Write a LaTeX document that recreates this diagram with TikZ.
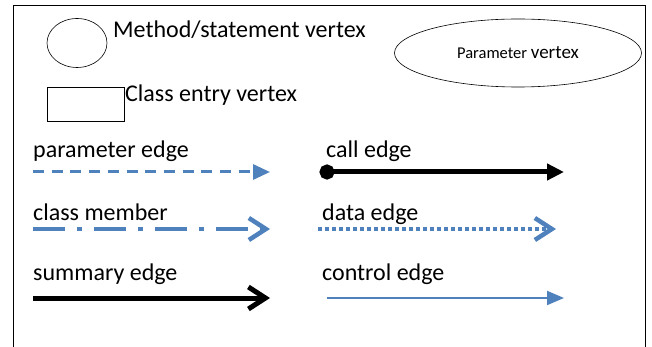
\documentclass[tikz,border=0pt]{standalone}
\usepackage{fontspec}
\setmainfont{Carlito}
\usetikzlibrary{arrows.meta,shapes.geometric}
\definecolor{kek}{RGB}{79,129,189}
\tikzset{
  csucs/.style={draw,ellipse,inner sep=0pt,line width=0.6pt},
  doboz/.style={draw,rectangle,inner sep=0pt,line width=0.6pt},
  felirat/.style={anchor=base west,inner sep=0pt,font=\fontsize{24}{28}\selectfont},
  pel/.style={kek,line width=3pt,dash pattern=on 11pt off 7.7pt,-{Triangle[length=17pt,width=15pt]}},
  tag/.style={kek,line width=4.5pt,dash pattern=on 32pt off 12pt on 5pt off 12pt,
              -{Straight Barb[length=17pt,width=22pt,line width=4.5pt]}},
  osszeg/.style={black,line width=5pt,-{Straight Barb[length=17pt,width=22pt,line width=5pt]}},
  hivas/.style={black,line width=5pt,{Circle[length=15pt]}-{Triangle[length=17pt,width=16pt]}},
  adat/.style={kek,line width=4pt,dash pattern=on 4pt off 3pt,
               -{Straight Barb[length=17pt,width=22pt,line width=4.5pt]}},
  vezerl/.style={kek,line width=2pt,-{Triangle[length=17pt,width=14pt]}},
}
\begin{document}
\begin{tikzpicture}[x=1pt,y=-1pt]
  \useasboundingbox (0,0) rectangle (652,347);
  \draw[line width=0.7pt] (13,360) -- (13,5) -- (645,5) -- (645,360);
  % csucsok
  \node[csucs,minimum width=60pt,minimum height=49pt] (mv) at (77,43) {};
  \node[felirat] (mvt) at (113,38) {Method/statement vertex};
  \node[doboz,minimum width=77pt,minimum height=34pt] (ce) at (85.5,104) {};
  \node[felirat] (cet) at (125,102) {Class entry vertex};
  \node[csucs,minimum width=247pt,minimum height=68pt] (pv) at (518,53)
    {\fontsize{16.5}{18}\selectfont Parameter \fontsize{19}{20}\selectfont vertex};
  % elek
  \node[felirat] (pe) at (33,158) {parameter edge};
  \coordinate (pe1) at (33,172); \coordinate (pe2) at (270,172);
  \draw[pel] (pe1) -- (pe2);
  \node[felirat] (cm) at (33,220) {class member};
  \coordinate (cm1) at (33,229); \coordinate (cm2) at (270,229);
  \draw[tag] (cm1) -- (cm2);
  \node[felirat] (se) at (33,280) {summary edge};
  \coordinate (se1) at (33,298); \coordinate (se2) at (270,298);
  \draw[osszeg] (se1) -- (se2);
  \node[felirat] (ca) at (326,158) {call edge};
  \coordinate (ca1) at (319.5,172); \coordinate (ca2) at (564,172);
  \draw[hivas] (ca1) -- (ca2);
  \node[felirat] (de) at (322,220) {data edge};
  \coordinate (de1) at (318,229); \coordinate (de2) at (556,229);
  \draw[adat] (de1) -- (de2);
  \node[felirat] (ct) at (322,280) {control edge};
  \coordinate (ct1) at (327,298); \coordinate (ct2) at (564,298);
  \draw[vezerl] (ct1) -- (ct2);
\end{tikzpicture}
\end{document}
